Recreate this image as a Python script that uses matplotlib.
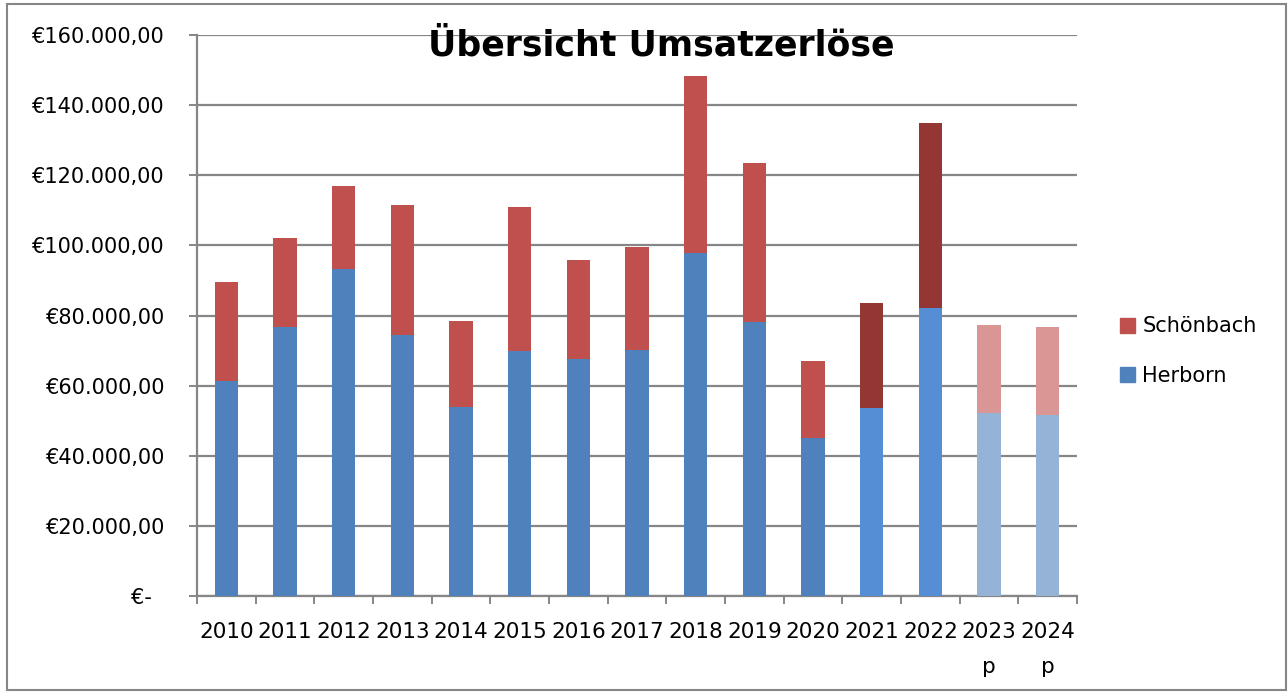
import matplotlib
matplotlib.use("Agg")
import numpy as np
import matplotlib.pyplot as plt
from matplotlib.patches import Patch, Rectangle
from matplotlib.ticker import FuncFormatter, FixedLocator

# Daten
years = ['2010', '2011', '2012', '2013', '2014', '2015', '2016', '2017',
         '2018', '2019', '2020', '2021', '2022', '2023\np', '2024\np']
herborn = [61200, 76600, 93300, 74400, 53800, 69800, 67700, 70100,
           97800, 78200, 45200, 53600, 82200, 52200, 51600]
schoenbach = [28400, 25500, 23600, 37100, 24600, 41100, 28100, 29500,
              50600, 45300, 21800, 30000, 52700, 25100, 25100]

# Farben je Balken (2021/22 abgesetzt, 2023/24 geplant)
col_herborn = ['#4F81BD'] * 11 + ['#558ED5'] * 2 + ['#95B3D7'] * 2
col_schoen = ['#C0504D'] * 11 + ['#943634'] * 2 + ['#D99694'] * 2

plt.rcParams['font.family'] = ['DejaVu Sans']

fig = plt.figure(figsize=(12.88, 6.93), dpi=100)
ax = fig.add_axes([197 / 1288, 1 - 596 / 693, 880 / 1288, 561 / 693])

x = np.arange(len(years))
ax.bar(x, herborn, width=0.4, color=col_herborn, zorder=3)
ax.bar(x, schoenbach, width=0.4, bottom=herborn, color=col_schoen, zorder=3)

ax.set_xlim(-0.5, len(years) - 0.5)
ax.set_ylim(0, 160000)


def euro(v, pos):
    if v == 0:
        return '€-  '
    s = f'{v:,.2f}'.replace(',', '#').replace('.', ',').replace('#', '.')
    return '€' + s


grid_col = '#868686'
ax.yaxis.set_major_locator(FixedLocator(np.arange(0, 160001, 20000)))
ax.yaxis.set_major_formatter(FuncFormatter(euro))
ax.grid(axis='y', color=grid_col, linewidth=1.6, zorder=1)
ax.tick_params(axis='y', length=6, width=1.4, color=grid_col, pad=17,
               labelsize=15)

# x: Striche an den Kategoriegrenzen, Beschriftung in der Mitte
ax.xaxis.set_major_locator(FixedLocator(np.arange(-0.5, len(years), 1.0)))
ax.xaxis.set_major_formatter(FuncFormatter(lambda v, p: ''))
ax.xaxis.set_minor_locator(FixedLocator(x))
ax.set_xticklabels(years, minor=True)
ax.tick_params(axis='x', which='major', direction='out', length=6,
               width=1.4, color=grid_col)
ax.tick_params(axis='x', which='minor', length=0, pad=19, labelsize=15.5)
for t in ax.get_xticklabels(minor=True):
    t.set_linespacing(1.9)
    t.set_verticalalignment('top')

for side in ['top', 'right']:
    ax.spines[side].set_visible(False)
for side in ['left', 'bottom']:
    ax.spines[side].set_color(grid_col)
    ax.spines[side].set_linewidth(1.6)

fig.text(661 / 1288, 1 - 56 / 693, 'Übersicht Umsatzerlöse', ha='center',
         va='baseline', fontsize=25, fontweight='bold')

handles = [Patch(color='#C0504D', label='Schönbach'),
           Patch(color='#4F81BD', label='Herborn')]
ax.legend(handles=handles, loc='center left',
          bbox_to_anchor=(1120 / 1288, 1 - 351 / 693),
          bbox_transform=fig.transFigure, frameon=False, fontsize=15,
          borderpad=0, borderaxespad=0, handlelength=0.72,
          handleheight=0.72, handletextpad=0.35, labelspacing=1.4)

# Rahmen ums Diagramm
fig.patches.append(Rectangle((7 / 1288, 3 / 693), 1279 / 1288, 686 / 693,
                             transform=fig.transFigure, fill=False,
                             edgecolor=grid_col, linewidth=1.5))

fig.savefig('out.png', dpi=100)
